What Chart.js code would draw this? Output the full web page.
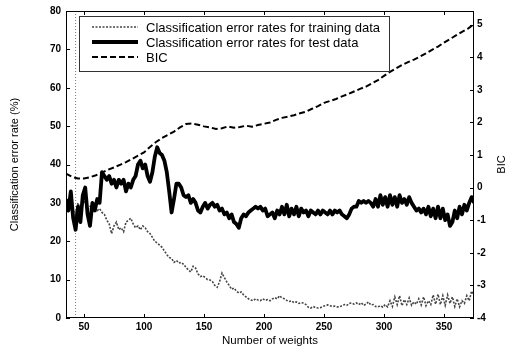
<!DOCTYPE html>
<html>
<head>
<meta charset="utf-8">
<script src="https://cdn.jsdelivr.net/npm/chart.js@4"></script>
<style>
  html, body { margin: 0; padding: 0; background: #fff; }
  #box { width: 510px; height: 351px; }
</style>
</head>
<body>
<div id="box"><canvas id="errChart" width="510" height="351"></canvas></div>
<script>
// sampling grid for the two error-rate curves (number of weights)
const weights = Array.from({ length: 171 }, (_, i) => 35 + 2 * i);

// classification error rate (%) on the test data
const testErr = [
  31, 28, 33, 26, 23, 29, 25, 32, 34, 27, 24, 30, 28, 31, 30,
  38, 37, 36, 37, 35, 36, 34, 36, 35, 36, 33, 35, 34, 36, 37,
  40, 41, 39, 40, 37, 35.5, 38, 42, 44.5, 43, 42.5, 41, 38, 33, 27.5,
  31, 35, 35, 34, 32, 31.5, 32, 30, 31, 30, 28, 27.5, 29, 30, 28.5,
  29.5, 30, 29, 29.5, 28, 28.5, 27, 27.5, 26, 27, 25, 24.5, 23.5, 26, 27,
  26.5, 27.5, 28, 28.5, 29, 28.5, 29, 28, 28.5, 26.5, 27, 27.5, 26, 28, 27,
  29, 27, 29.5, 26.5, 28.5, 27, 29, 26.5, 28.5, 27.5, 28, 26.5, 28, 27.5, 27,
  28, 27, 28, 27.5, 27, 28, 27, 28, 27.5, 28, 27, 26.5, 26, 27, 28.5,
  29, 29, 30.5, 30, 30.5, 30, 30.5, 30, 29, 31, 29, 32, 29.5, 31.5, 29,
  32, 29.5, 31.5, 29, 32, 30, 31, 29.5, 31.5, 30, 29, 28, 28.5, 27.5, 28.5,
  27, 29, 26.5, 28.5, 26, 29, 26, 28.5, 25.5, 27, 24, 25, 28, 26, 29,
  27, 29.5, 28, 30, 31.5, 30
];

// classification error rate (%) on the training data
const trainErr = [
  30, 29, 31, 28, 27, 30, 28, 31, 30, 28, 29, 30, 29, 28, 28.5,
  27.5, 27, 25.5, 24.5, 22, 24, 25, 23, 23.5, 22.5, 25, 25.5, 26, 24.5, 23.5,
  24, 23, 24, 23.5, 22.5, 22, 21, 20, 19.5, 19, 18.4, 17.5, 16.5, 15.8, 15.5,
  14.5, 15, 14.3, 14.5, 14, 13.2, 12.5, 12, 13.5, 13, 11.5, 10.8, 11, 10.5, 10,
  9.9, 9.5, 8.5, 8, 9.5, 11.7, 10.5, 9.4, 8.5, 7.5, 7.8, 7, 6.5, 6.8, 6,
  5.5, 5, 4.7, 4.5, 5, 4.7, 4.5, 5, 4.6, 4.8, 4.5, 5, 5.3, 5, 5.8,
  5.2, 5, 4.6, 4.3, 4.5, 4, 4.2, 3.8, 4, 3.9, 3.5, 2.8, 2.6, 3, 2.7,
  2.6, 2.7, 3, 3.2, 3.4, 3.2, 3, 3.1, 2.9, 2.9, 3.2, 3.5, 3.3, 3.8, 3.9,
  3.6, 3.9, 3.5, 4, 3.3, 3.6, 4.2, 3.4, 3.5, 3, 2.9, 3.2, 2.8, 3.5, 2.9,
  4.5, 3, 5.5, 3.5, 5.8, 3.2, 4.8, 3.5, 5.2, 3.3, 4.2, 3.6, 5, 3.4, 5.5,
  3.2, 4.5, 3.5, 6, 3.6, 6.2, 3.5, 5.8, 3.3, 6, 3.8, 5.5, 3, 5, 2.9,
  4.5, 3.8, 5.8, 4.5, 7, 6
];

// BIC, right axis
const bicWeights = [
  35, 40, 45, 50, 55, 60, 65, 70, 75, 80, 85, 90, 95, 100, 105, 110, 115, 120,
  125, 130, 135, 140, 145, 150, 155, 160, 165, 170, 175, 180, 185, 190, 195, 200,
  205, 210, 215, 220, 225, 230, 235, 240, 245, 250, 255, 260, 265, 270, 275, 280,
  285, 290, 295, 300, 305, 310, 315, 320, 325, 330, 335, 340, 345, 350, 355, 360,
  365, 370, 375
];
const bicValues = [
  0.43, 0.33, 0.28, 0.28, 0.32, 0.38, 0.46, 0.55, 0.62, 0.70, 0.78, 0.88, 0.98, 1.08,
  1.25, 1.40, 1.52, 1.62, 1.72, 1.85, 1.95, 1.97, 1.93, 1.88, 1.85, 1.80, 1.82, 1.88,
  1.84, 1.86, 1.90, 1.87, 1.92, 1.96, 2.00, 2.08, 2.14, 2.18, 2.22, 2.28, 2.33, 2.42,
  2.50, 2.60, 2.66, 2.72, 2.80, 2.87, 2.95, 3.03, 3.10, 3.20, 3.30, 3.43, 3.55, 3.66,
  3.76, 3.85, 3.93, 4.02, 4.12, 4.23, 4.33, 4.45, 4.56, 4.67, 4.78, 4.88, 5.02
];

// dotted marker line at the BIC minimum
const markerWeight = 43;

const xTicks = [50, 100, 150, 200, 250, 300, 350];
const errTicks = [0, 10, 20, 30, 40, 50, 60, 70, 80];
const bicTicks = [-4, -3, -2, -1, 0, 1, 2, 3, 4, 5];

const legendLabels = [
  'Classification error rates for training data',
  'Classification error rates for test data',
  'BIC'
];

const FONT = '"Liberation Sans", Arial, sans-serif';

function pairs(xs, ys) {
  return ys.map((y, i) => ({ x: xs[i], y: y }));
}

// frame, inward ticks, legend box and right-hand title
const framePlugin = {
  id: 'frame',
  afterDraw(chart) {
    const { ctx, chartArea: a, scales } = chart;
    ctx.save();
    ctx.strokeStyle = '#000';
    ctx.lineWidth = 1;
    ctx.strokeRect(a.left + 0.5, a.top + 0.5, a.right - a.left - 1, a.bottom - a.top - 1);

    ctx.beginPath();
    xTicks.forEach(v => {
      const px = Math.round(scales.x.getPixelForValue(v)) + 0.5;
      ctx.moveTo(px, a.bottom); ctx.lineTo(px, a.bottom - 4);
      ctx.moveTo(px, a.top); ctx.lineTo(px, a.top + 4);
    });
    errTicks.forEach(v => {
      const py = Math.round(scales.y.getPixelForValue(v)) + 0.5;
      ctx.moveTo(a.left, py); ctx.lineTo(a.left + 4, py);
    });
    bicTicks.forEach(v => {
      const py = Math.round(scales.y2.getPixelForValue(v)) + 0.5;
      ctx.moveTo(a.right, py); ctx.lineTo(a.right - 4, py);
    });
    ctx.stroke();

    // legend
    const lx = 79, ly = 16, lw = 310, lh = 55;
    ctx.fillStyle = '#fff';
    ctx.fillRect(lx, ly, lw, lh);
    ctx.strokeStyle = '#333';
    ctx.strokeRect(lx + 0.5, ly + 0.5, lw, lh);
    const ds = chart.data.datasets;
    const order = [2, 1, 0];
    ctx.font = '13px ' + FONT;
    ctx.textBaseline = 'middle';
    order.forEach((di, row) => {
      const d = ds[di];
      const y = ly + 11 + row * 15;
      ctx.beginPath();
      ctx.strokeStyle = d.borderColor;
      ctx.lineWidth = d.borderWidth;
      ctx.setLineDash(d.borderDash || []);
      ctx.moveTo(92, y); ctx.lineTo(138, y);
      ctx.stroke();
      ctx.setLineDash([]);
      ctx.fillStyle = '#000';
      ctx.fillText(legendLabels[row], 146, y + 1);
    });

    // BIC title, read bottom to top like the left one
    ctx.translate(502, (a.top + a.bottom) / 2);
    ctx.rotate(-Math.PI / 2);
    ctx.textAlign = 'center';
    ctx.font = '11px ' + FONT;
    ctx.fillText('BIC', 0, 0);
    ctx.restore();
  }
};

const tickFont = { family: FONT, size: 10, weight: 'bold' };
const noGrid = { display: false, drawTicks: false };

new Chart(document.getElementById('errChart'), {
  type: 'line',
  data: {
    datasets: [
      {
        label: legendLabels[2],
        data: pairs(bicWeights, bicValues),
        yAxisID: 'y2',
        borderColor: '#000',
        borderWidth: 2,
        borderDash: [6, 3]
      },
      {
        label: legendLabels[1],
        data: pairs(weights, testErr),
        yAxisID: 'y',
        borderColor: '#000',
        borderWidth: 3.8,
        borderJoinStyle: 'round'
      },
      {
        label: legendLabels[0],
        data: pairs(weights, trainErr),
        yAxisID: 'y',
        borderColor: '#444',
        borderWidth: 1.6,
        borderDash: [2, 1.5]
      },
      {
        label: 'marker',
        data: [{ x: markerWeight, y: 0 }, { x: markerWeight, y: 80 }],
        yAxisID: 'y',
        borderColor: '#777',
        borderWidth: 1,
        borderDash: [1, 2]
      }
    ]
  },
  options: {
    responsive: false,
    animation: false,
    layout: { padding: { top: 9, left: 0, right: 0, bottom: 0 } },
    elements: { point: { radius: 0 }, line: { tension: 0 } },
    plugins: { legend: { display: false }, tooltip: { enabled: false } },
    scales: {
      x: {
        type: 'linear',
        min: 35,
        max: 375,
        afterBuildTicks: s => { s.ticks = xTicks.map(v => ({ value: v })); },
        afterFit: s => { s.height = 33; },
        grid: noGrid,
        border: { display: false },
        ticks: { color: '#000', font: tickFont, padding: 3 },
        title: {
          display: true,
          text: 'Number of weights',
          color: '#000',
          font: { family: FONT, size: 11.5 },
          padding: { top: 0, bottom: 3 }
        }
      },
      y: {
        position: 'left',
        min: 0,
        max: 80,
        afterBuildTicks: s => { s.ticks = errTicks.map(v => ({ value: v })); },
        afterFit: s => { s.width = 66; },
        grid: noGrid,
        border: { display: false },
        ticks: { color: '#000', font: tickFont, padding: 5 },
        title: {
          display: true,
          text: 'Classification error rate (%)',
          color: '#000',
          font: { family: FONT, size: 11 },
          padding: { top: 8, bottom: 0 }
        }
      },
      y2: {
        position: 'right',
        min: -4,
        max: 5.42,
        afterBuildTicks: s => { s.ticks = bicTicks.map(v => ({ value: v })); },
        afterFit: s => { s.width = 36; },
        grid: noGrid,
        border: { display: false },
        ticks: { color: '#000', font: tickFont, padding: 3 }
      }
    }
  },
  plugins: [framePlugin]
});
</script>
</body>
</html>
